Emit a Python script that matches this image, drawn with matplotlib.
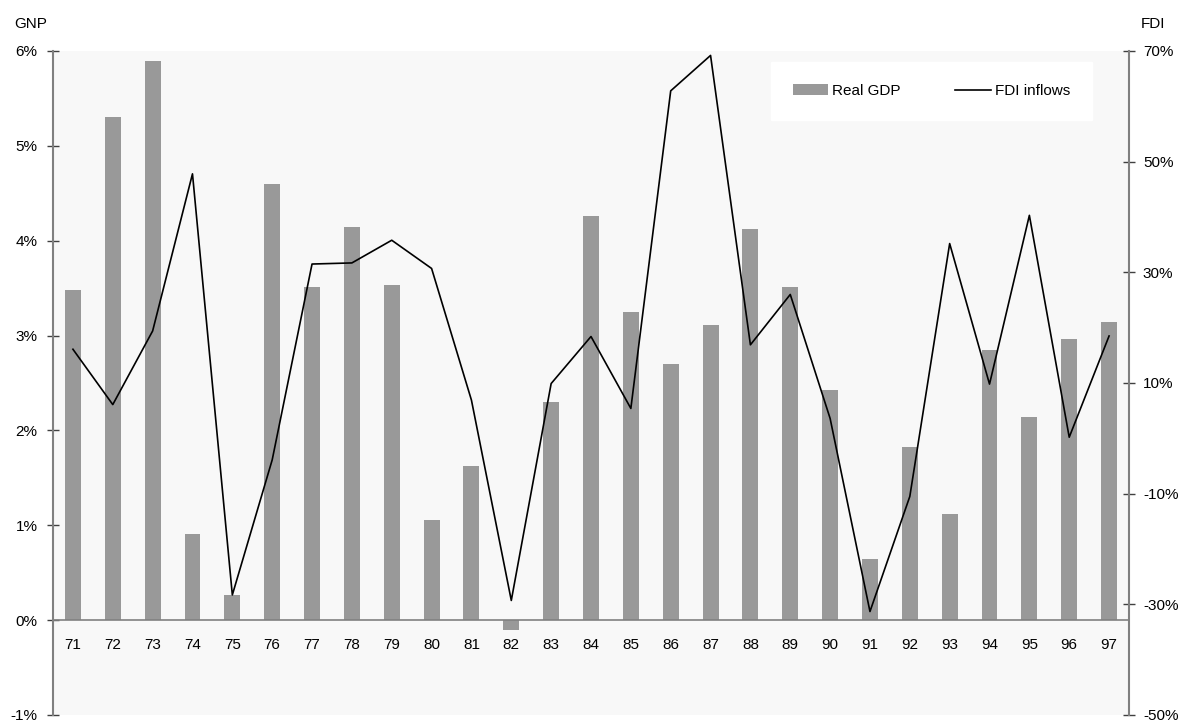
import numpy as np
import matplotlib
matplotlib.use("Agg")
import matplotlib.pyplot as plt
from matplotlib.ticker import FuncFormatter
from matplotlib.lines import Line2D
from matplotlib.patches import Patch

plt.rcParams['font.family'] = ['Liberation Sans', 'DejaVu Sans']

# datos
years = ['71', '72', '73', '74', '75', '76', '77', '78', '79', '80', '81', '82', '83', '84',
         '85', '86', '87', '88', '89', '90', '91', '92', '93', '94', '95', '96', '97']
real_gdp = [3.48, 5.30, 5.89, 0.91, 0.26, 4.60, 3.51, 4.14, 3.53, 1.06, 1.63, -0.10, 2.30, 4.26,
            3.25, 2.70, 3.11, 4.12, 3.51, 2.43, 0.64, 1.83, 1.12, 2.85, 2.14, 2.96, 3.14]
fdi_inflows = [16.1, 6.1, 19.4, 47.8, -28.3, -3.9, 31.5, 31.7, 35.8, 30.7, 6.9, -29.3, 9.9, 18.4,
               5.4, 62.8, 69.2, 16.9, 26.0, 3.6, -31.3, -10.5, 35.2, 9.8, 40.3, 0.2, 18.5]

gnp_ticks = [-1, 0, 1, 2, 3, 4, 5, 6]
fdi_ticks = [-50, -30, -10, 10, 30, 50, 70]

bar_color = '#999999'
spine_color = '#808080'
fs = 11

fig = plt.figure(figsize=(11.78, 7.2), dpi=100)
ax = fig.add_axes([53 / 1178, 5 / 720, (1129 - 53) / 1178, (715 - 51) / 720])
ax.set_facecolor('#f8f8f8')

x = np.arange(len(years))
ax.bar(x, real_gdp, width=0.4, color=bar_color, zorder=2)
ax.set_xlim(-0.5, len(years) - 0.5)
ax.set_ylim(-1, 6)
ax.set_yticks(gnp_ticks)
ax.yaxis.set_major_formatter(FuncFormatter(lambda v, p: f'{v:.0f}%'))

# eje x en el cero
ax.spines['bottom'].set_position(('data', 0))
ax.spines['bottom'].set_color(spine_color)
ax.spines['bottom'].set_linewidth(1.2)
ax.spines['bottom'].set_zorder(3)
ax.spines['top'].set_visible(False)
ax.spines['right'].set_visible(False)
ax.spines['left'].set_color(spine_color)
ax.spines['left'].set_linewidth(1.5)
ax.set_xticks(x)
ax.set_xticklabels(years)
ax.tick_params(axis='x', length=0, pad=13, labelsize=fs)
ax.tick_params(axis='y', direction='inout', length=8, width=1, color='#404040', pad=7, labelsize=fs)

ax2 = ax.twinx()
ax2.plot(x, fdi_inflows, color='black', linewidth=1.2, zorder=3)
ax2.set_ylim(-50, 70)
ax2.set_yticks(fdi_ticks)
ax2.yaxis.set_major_formatter(FuncFormatter(lambda v, p: f'{v:.0f}%'))
for s in ['top', 'bottom', 'left']:
    ax2.spines[s].set_visible(False)
ax2.spines['right'].set_color(spine_color)
ax2.spines['right'].set_linewidth(1.5)
ax2.tick_params(axis='y', direction='inout', length=8, width=1, color='#404040', pad=6, labelsize=fs)

handles = [Patch(facecolor=bar_color, edgecolor='none', label='Real GDP'),
           Line2D([], [], color='black', linewidth=1.2, label='FDI inflows')]
leg = ax2.legend(handles=handles, ncol=2, loc='upper right',
                 bbox_to_anchor=((1092 - 53) / 1076, (715 - 62) / 664),
                 borderaxespad=0, frameon=True, fancybox=False, facecolor='white',
                 edgecolor='white', framealpha=1, fontsize=fs, handlelength=2.3,
                 handletextpad=0.26, columnspacing=3.6, borderpad=1.45)

fig.text(14 / 1178, 1 - 24 / 720, 'GNP', fontsize=fs, va='center', ha='left')
fig.text(1141 / 1178, 1 - 24 / 720, 'FDI', fontsize=fs, va='center', ha='left')

fig.savefig('out.png', dpi=100)
